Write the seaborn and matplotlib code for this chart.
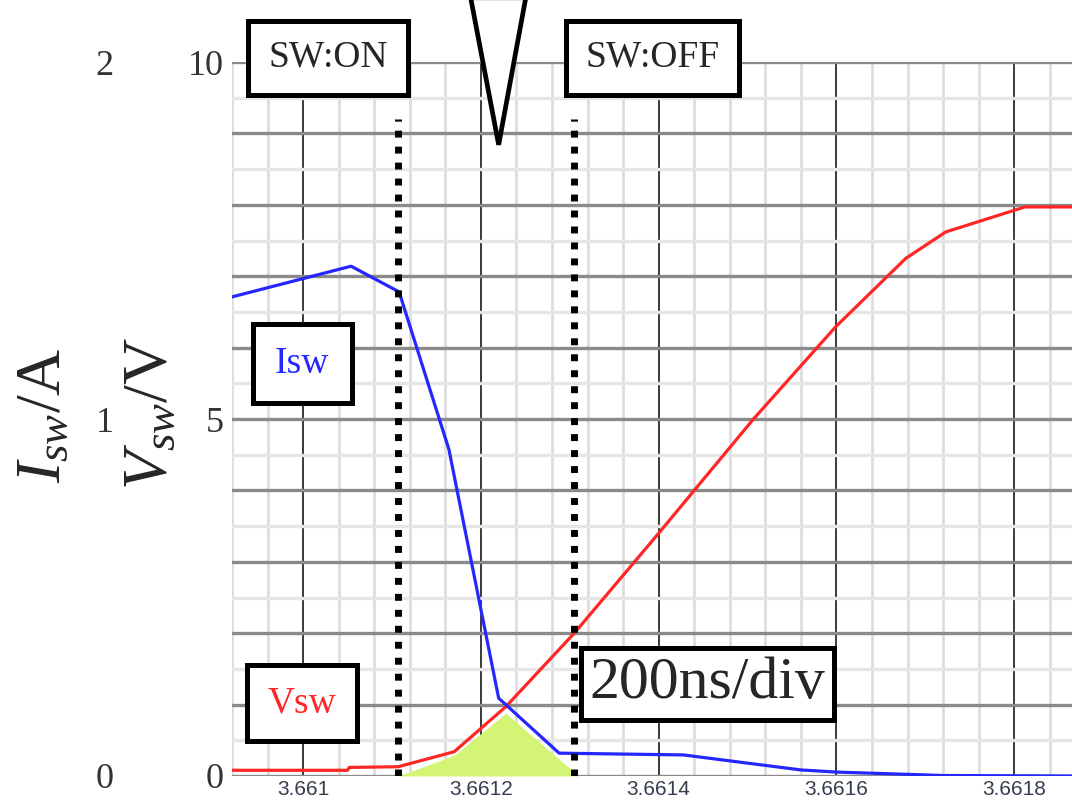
import matplotlib.pyplot as plt
import seaborn as sns
import numpy as np

# switching waveform around turn-off (time axis in ms)
t_vsw = [3.66092, 3.66105, 3.661052, 3.661107, 3.66117, 3.661228, 3.661305,
         3.6614, 3.661506, 3.661599, 3.661678, 3.661723, 3.661812, 3.661866]
vsw = [0.08, 0.08, 0.12, 0.13, 0.34, 0.97, 2.0,
       3.4, 4.99, 6.29, 7.25, 7.62, 7.97, 7.97]

t_isw = [3.66092, 3.661054, 3.661108, 3.661164, 3.66122, 3.661288, 3.661428,
         3.6615, 3.66156, 3.6616, 3.66172, 3.661866]
isw = [1.342, 1.428, 1.356, 0.915, 0.218, 0.064, 0.059,
       0.036, 0.017, 0.011, 0.0014, 0.0]

# switching loss area
t_loss = [3.661107, 3.66117, 3.661228, 3.66131]
v_loss = [0.0, 0.29, 0.88, 0.0]

t_on, t_off = 3.661107, 3.661305
t_marker = 3.66122

xticks = [3.661, 3.6612, 3.6614, 3.6616, 3.6618]
xtick_labels = ['3.661', '3.6612', '3.6614', '3.6616', '3.6618']
v_ticks = [0, 5, 10]
i_ticks = [0, 1, 2]
v_per_a = 5.0

sns.set_style("white")
plt.rcParams['font.family'] = ['Liberation Serif', 'DejaVu Serif']
plt.rcParams['mathtext.fontset'] = 'custom'
plt.rcParams['mathtext.rm'] = 'Liberation Serif'
plt.rcParams['mathtext.it'] = 'Liberation Serif:italic'

red = '#ff2626'
blue = '#2626ff'

fig = plt.figure(figsize=(10.72, 8.01), dpi=100)
ax = fig.add_axes([232 / 1072, 25 / 801, 840 / 1072, 714 / 801])

ax.set_xlim(3.66092, 3.661865)
ax.set_ylim(0, 10)

# grid: dark every 200 ns / 1 V, light subdivisions
ax.set_xticks(xticks)
ax.set_xticks(np.arange(3.66092, 3.66187, 0.00004), minor=True)
ax.set_xticklabels(xtick_labels, fontfamily='Liberation Sans', fontsize=15,
                   color='#363e4e')
ax.set_yticks(np.arange(0, 11, 1))
ax.set_yticks(np.arange(0.5, 10, 1), minor=True)
ax.set_yticklabels([str(v) if v in v_ticks else '' for v in range(11)],
                   fontsize=26, color='#333333')
ax.tick_params(axis='both', which='both', length=0)
ax.tick_params(axis='x', pad=3)
ax.tick_params(axis='y', pad=6)

ax.grid(which='major', axis='x', color='#3a3a3a', lw=1.4)
ax.grid(which='minor', axis='x', color='#dddddd', lw=2.0)
ax.grid(which='major', axis='y', color='#8a8a8a', lw=2.4)
ax.grid(which='minor', axis='y', color='#e6e6e6', lw=2.4)
ax.set_axisbelow(True)
for s in ax.spines.values():
    s.set_visible(False)

# loss area and waveforms
ax.fill_between(t_loss, v_loss, 0, color='#d3f474', lw=0, zorder=2)
sns.lineplot(x=t_vsw, y=vsw, ax=ax, color=red, lw=2.3, zorder=3)
sns.lineplot(x=t_isw, y=[i * v_per_a for i in isw], ax=ax, color=blue, lw=2.3, zorder=3)

# switching instants
ax.vlines([t_on, t_off], 0, 9.2, colors='black', lw=5, linestyles=(0, (1, 1.3)), zorder=4)

# pointer at the crossing
ax.fill([t_marker - 0.0000315, t_marker, t_marker + 0.0000305],
        [10.9, 8.84, 10.9], facecolor='white', edgecolor='black', lw=3.4,
        clip_on=False, zorder=5)

box = dict(boxstyle='square,pad=0.53', fc='white', ec='black', lw=3.6)
ax.text(3.661028, 10.06, 'SW:ON', fontsize=27, ha='center', va='center', bbox=box, zorder=6)
ax.text(3.661393, 10.06, 'SW:OFF', fontsize=27, ha='center', va='center', bbox=box, zorder=6)
ax.text(3.660999, 5.78, 'Isw', fontsize=27, color=blue, ha='center', va='center',
        bbox=dict(box, boxstyle='square,pad=0.6'), zorder=6)
ax.text(3.660999, 1.02, 'Vsw', fontsize=27, color=red, ha='center', va='center',
        bbox=dict(box, boxstyle='square,pad=0.55'), zorder=6)
ax.text(3.661455, 1.29, '200ns/div', fontsize=43, ha='center', va='center',
        bbox=dict(box, boxstyle='square,pad=0.15'), zorder=6)

# current scale on the far left
sec = ax.secondary_yaxis(-0.1405, functions=(lambda v: v / v_per_a, lambda i: i * v_per_a))
sec.set_yticks(i_ticks)
sec.set_yticklabels([str(i) for i in i_ticks], fontsize=26, color='#333333')
sec.tick_params(length=0, pad=0)
sec.spines['left'].set_visible(False)

ax.set_ylabel(r'$V_{sw}/\mathrm{V}$', fontsize=46, va='center')
ax.yaxis.set_label_coords(-0.095, 0.507)
ax.text(-0.222, 0.505, r'$I_{sw}/\mathrm{A}$', fontsize=46, rotation=90,
        ha='center', va='center', transform=ax.transAxes)

fig.savefig('out.png', dpi=100)
